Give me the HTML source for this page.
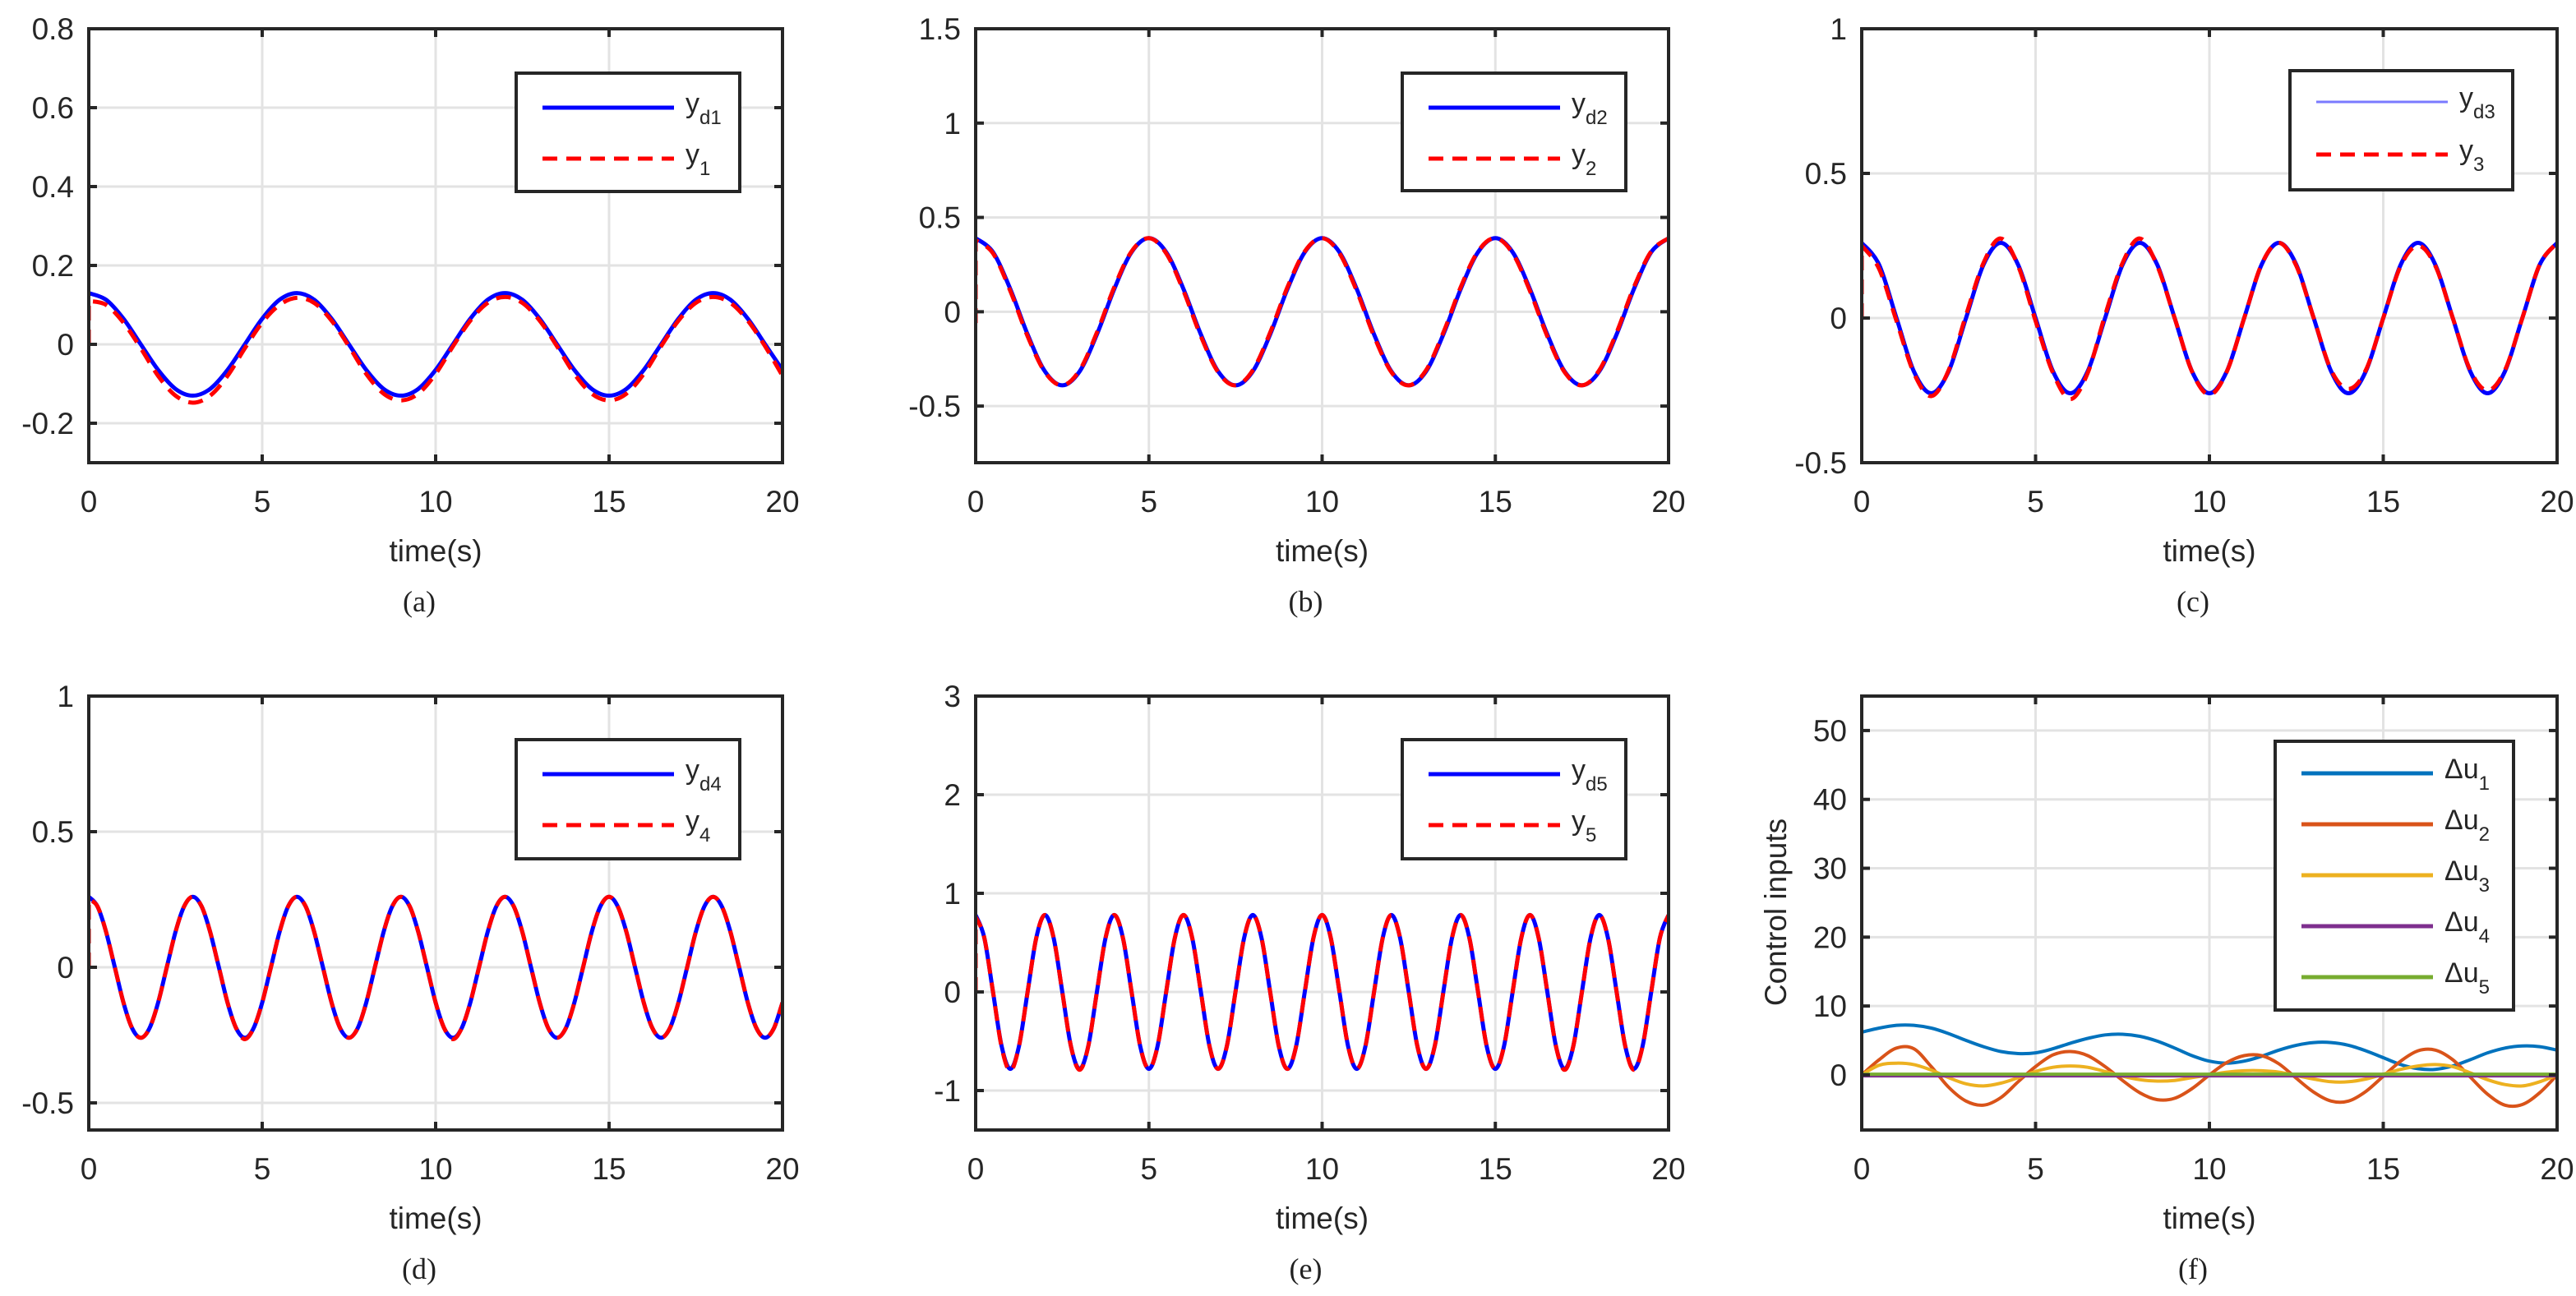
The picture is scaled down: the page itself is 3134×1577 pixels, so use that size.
<!DOCTYPE html>
<html><head><meta charset="utf-8"><style>
html,body{margin:0;padding:0;background:#fff;}
svg{display:block;}
text{font-family:"Liberation Sans",Arial,sans-serif;fill:#262626;}
.cap{font-family:"Liberation Serif",serif;fill:#222;}
</style></head><body>
<svg id="fig" width="3134" height="1577" viewBox="0 0 3134 1577" xmlns="http://www.w3.org/2000/svg"></svg>
<script>
// ---- data ----
const yTicksA = [-0.2, 0, 0.2, 0.4, 0.6, 0.8];
const yTickLabelsA = ["-0.2", "0", "0.2", "0.4", "0.6", "0.8"];
const yTicksB = [-0.5, 0, 0.5, 1, 1.5];
const yTickLabelsB = ["-0.5", "0", "0.5", "1", "1.5"];
const yTicksC = [-0.5, 0, 0.5, 1];
const yTickLabelsC = ["-0.5", "0", "0.5", "1"];
const yTicksD = [-0.5, 0, 0.5, 1];
const yTickLabelsD = ["-0.5", "0", "0.5", "1"];
const yTicksE = [-1, 0, 1, 2, 3];
const yTickLabelsE = ["-1", "0", "1", "2", "3"];
const yTicksF = [0, 10, 20, 30, 40, 50];
const yTickLabelsF = ["0", "10", "20", "30", "40", "50"];
const xTicks = [0, 5, 10, 15, 20];
const xTickLabels = ["0", "5", "10", "15", "20"];

const ydA = [0.13,0.113,0.065,0,-0.065,-0.113,-0.13,-0.113,-0.065,0,0.065,0.113,0.13,0.113,0.065,0,-0.065,-0.113,-0.13,-0.113,-0.065,0,0.065,0.113,0.13,0.113,0.065,0,-0.065,-0.113,-0.13,-0.113,-0.065,0,0.065,0.113,0.13,0.113,0.065,0,-0.065];
const yA = [0.11,0.10,0.055,-0.01,-0.08,-0.13,-0.148,-0.13,-0.08,-0.01,0.055,0.10,0.118,0.105,0.06,-0.005,-0.075,-0.125,-0.142,-0.125,-0.075,-0.005,0.06,0.105,0.12,0.105,0.06,-0.005,-0.075,-0.125,-0.142,-0.125,-0.075,-0.005,0.06,0.105,0.12,0.105,0.06,-0.005,-0.08];
const ydB = [0.39,0.316,0.12,-0.12,-0.316,-0.39,-0.316,-0.12,0.12,0.316,0.39,0.316,0.12,-0.12,-0.316,-0.39,-0.316,-0.12,0.12,0.316,0.39,0.316,0.12,-0.12,-0.316,-0.39,-0.316,-0.12,0.12,0.316,0.39,0.316,0.12,-0.12,-0.316,-0.39,-0.316,-0.12,0.12,0.316,0.39];
const yB = [0.38,0.31,0.11,-0.13,-0.32,-0.39,-0.31,-0.11,0.13,0.32,0.39,0.31,0.11,-0.13,-0.32,-0.39,-0.31,-0.11,0.13,0.32,0.39,0.31,0.11,-0.13,-0.32,-0.39,-0.31,-0.11,0.13,0.32,0.39,0.31,0.11,-0.13,-0.32,-0.39,-0.31,-0.11,0.13,0.32,0.39];
const ydC = [0.26,0.184,0,-0.184,-0.26,-0.184,0,0.184,0.26,0.184,0,-0.184,-0.26,-0.184,0,0.184,0.26,0.184,0,-0.184,-0.26,-0.184,0,0.184,0.26,0.184,0,-0.184,-0.26,-0.184,0,0.184,0.26,0.184,0,-0.184,-0.26,-0.184,0,0.184,0.26];
const yC = [0.25,0.17,-0.01,-0.19,-0.27,-0.18,0.01,0.19,0.275,0.18,-0.01,-0.19,-0.28,-0.19,0.01,0.19,0.275,0.18,0,-0.185,-0.265,-0.185,0,0.185,0.26,0.18,0,-0.18,-0.245,-0.18,0,0.18,0.25,0.18,0,-0.18,-0.25,-0.18,0,0.185,0.26];
const ydD = [0.26,0.225,0.13,0,-0.13,-0.225,-0.26,-0.225,-0.13,0,0.13,0.225,0.26,0.225,0.13,0,-0.13,-0.225,-0.26,-0.225,-0.13,0,0.13,0.225,0.26,0.225,0.13,0,-0.13,-0.225,-0.26,-0.225,-0.13,0,0.13,0.225,0.26,0.225,0.13,0,-0.13,-0.225,-0.26,-0.225,-0.13,0,0.13,0.225,0.26,0.225,0.13,0,-0.13,-0.225,-0.26,-0.225,-0.13,0,0.13,0.225,0.26,0.225,0.13,0,-0.13,-0.225,-0.26,-0.225,-0.13,0,0.13,0.225,0.26,0.225,0.13,0,-0.13,-0.225,-0.26,-0.225,-0.13];
const yD = [0.25,0.225,0.13,0,-0.13,-0.225,-0.26,-0.225,-0.13,0,0.13,0.225,0.26,0.225,0.13,0,-0.13,-0.225,-0.265,-0.225,-0.13,0,0.13,0.225,0.26,0.225,0.13,0,-0.13,-0.225,-0.26,-0.225,-0.13,0,0.13,0.225,0.26,0.225,0.13,0,-0.13,-0.225,-0.265,-0.225,-0.13,0,0.13,0.225,0.26,0.225,0.13,0,-0.13,-0.225,-0.26,-0.225,-0.13,0,0.13,0.225,0.26,0.225,0.13,0,-0.13,-0.225,-0.26,-0.225,-0.13,0,0.13,0.225,0.26,0.225,0.13,0,-0.13,-0.225,-0.26,-0.225,-0.13];
const ydE = [0.78,0.55,0,-0.55,-0.78,-0.55,0,0.55,0.78,0.55,0,-0.55,-0.78,-0.55,0,0.55,0.78,0.55,0,-0.55,-0.78,-0.55,0,0.55,0.78,0.55,0,-0.55,-0.78,-0.55,0,0.55,0.78,0.55,0,-0.55,-0.78,-0.55,0,0.55,0.78,0.55,0,-0.55,-0.78,-0.55,0,0.55,0.78,0.55,0,-0.55,-0.78,-0.55,0,0.55,0.78,0.55,0,-0.55,-0.78,-0.55,0,0.55,0.78,0.55,0,-0.55,-0.78,-0.55,0,0.55,0.78,0.55,0,-0.55,-0.78,-0.55,0,0.55,0.78];
const yE = [0.76,0.55,0,-0.56,-0.8,-0.55,0,0.55,0.78,0.55,0,-0.55,-0.79,-0.55,0,0.55,0.78,0.55,0,-0.55,-0.78,-0.55,0,0.55,0.78,0.55,0,-0.55,-0.78,-0.55,0,0.55,0.78,0.55,0,-0.55,-0.78,-0.55,0,0.55,0.78,0.55,0,-0.55,-0.78,-0.55,0,0.55,0.78,0.55,0,-0.55,-0.78,-0.55,0,0.55,0.78,0.55,0,-0.55,-0.78,-0.55,0,0.55,0.78,0.55,0,-0.55,-0.79,-0.55,0,0.55,0.78,0.55,0,-0.55,-0.79,-0.55,0,0.55,0.78];
const du1 = [6.2,6.8,7.2,7.2,6.8,6.0,5.0,4.1,3.4,3.1,3.2,3.8,4.6,5.3,5.8,5.9,5.6,4.9,3.9,2.8,2.0,1.7,2.0,2.7,3.6,4.3,4.7,4.7,4.3,3.5,2.5,1.5,0.9,0.8,1.3,2.2,3.2,3.9,4.2,4.1,3.6];
const du2 = [0,2.2,3.9,3.8,1.2,-1.8,-3.8,-4.4,-3.3,-1.0,1.2,2.9,3.4,2.8,1.2,-0.8,-2.6,-3.6,-3.4,-2.0,0,1.8,2.8,2.8,1.6,-0.5,-2.5,-3.8,-3.8,-2.4,-0.2,2.0,3.5,3.6,2.2,-0.3,-2.8,-4.4,-4.3,-2.6,0];
const du3 = [0,1.4,1.7,1.5,0.7,-0.4,-1.3,-1.6,-1.2,-0.4,0.5,1.1,1.3,1.1,0.5,-0.2,-0.7,-0.9,-0.8,-0.4,0,0.4,0.6,0.6,0.4,-0.1,-0.6,-1.0,-1.0,-0.6,0.1,0.8,1.3,1.5,1.2,0.3,-0.7,-1.4,-1.6,-1.0,0];
const du4 = [-0.2,-0.2,-0.2,-0.2,-0.2,-0.2,-0.2,-0.2,-0.2,-0.2,-0.2,-0.2,-0.2,-0.2,-0.2,-0.2,-0.2,-0.2,-0.2,-0.2,-0.2,-0.2,-0.2,-0.2,-0.2,-0.2,-0.2,-0.2,-0.2,-0.2,-0.2,-0.2,-0.2,-0.2,-0.2,-0.2,-0.2,-0.2,-0.2,-0.2,-0.2];
const du5 = [0.1,0.1,0.1,0.1,0.1,0.1,0.1,0.1,0.1,0.1,0.1,0.1,0.1,0.1,0.1,0.1,0.1,0.1,0.1,0.1,0.1,0.1,0.1,0.1,0.1,0.1,0.1,0.1,0.1,0.1,0.1,0.1,0.1,0.1,0.1,0.1,0.1,0.1,0.1,0.1,0.1];
// initial transient values at t=0 (vertical jump)
const startA = [0], startB = [-0.06], startC = [0], startD = [0], startE = [0];
const startF = [6.2, 1.0, 10, 0, 6];

const NS = "http://www.w3.org/2000/svg";
const svg = document.getElementById("fig");
function mk(tag, attrs, parent) {
  const e = document.createElementNS(NS, tag);
  for (const k in attrs) e.setAttribute(k, attrs[k]);
  (parent || svg).appendChild(e);
  return e;
}
function times(n) { const t = []; for (let i = 0; i < n; i++) t.push(20 * i / (n - 1)); return t; }
function smoothPath(pts) {
  let d = "M" + pts[0][0].toFixed(1) + "," + pts[0][1].toFixed(1);
  for (let i = 0; i < pts.length - 1; i++) {
    const p0 = pts[Math.max(0, i - 1)], p1 = pts[i], p2 = pts[i + 1], p3 = pts[Math.min(pts.length - 1, i + 2)];
    const c1x = p1[0] + (p2[0] - p0[0]) / 6, c1y = p1[1] + (p2[1] - p0[1]) / 6;
    const c2x = p2[0] - (p3[0] - p1[0]) / 6, c2y = p2[1] - (p3[1] - p1[1]) / 6;
    d += " C" + c1x.toFixed(1) + "," + c1y.toFixed(1) + " " + c2x.toFixed(1) + "," + c2y.toFixed(1) + " " + p2[0].toFixed(1) + "," + p2[1].toFixed(1);
  }
  return d;
}

function panel(cfg) {
  const g = mk("g", {});
  
  
  const X = t => cfg.L + (t - 0) / 20 * (cfg.R - cfg.L);
  const Y = v => cfg.B - (v - cfg.ymin) / (cfg.ymax - cfg.ymin) * (cfg.B - cfg.T);
  // grid
  xTicks.forEach(t => {
    const l = mk("line", {x1: X(t), x2: X(t), y1: cfg.T, y2: cfg.B, stroke: "#e3e3e3", "stroke-width": 3}, g);
    
    
  });
  cfg.yt.forEach(v => {
    const l = mk("line", {x1: cfg.L, x2: cfg.R, y1: Y(v), y2: Y(v), stroke: "#e3e3e3", "stroke-width": 3}, g);
    
    
  });
  // series
  const clipId = "clip" + cfg.id;
  const cp = mk("clipPath", {id: clipId}, g);
  mk("rect", {x: cfg.L, y: cfg.T, width: cfg.R - cfg.L, height: cfg.B - cfg.T}, cp);
  cfg.series.forEach(s => {
    const tt = times(s.v.length);
    const pts = s.v.map((v, i) => [X(tt[i]), Y(v)]);
    let d = smoothPath(pts);
    if (s.start !== undefined) d = "M" + X(0) + "," + Y(s.start) + " L" + pts[0][0] + "," + pts[0][1] + " " + d.replace(/^M[^ ]+/, "");
    const p = mk("path", {d: d, fill: "none", stroke: s.color, "stroke-width": s.w || 5, "clip-path": "url(#" + clipId + ")", "stroke-linejoin": "round"}, g);
    if (s.dash) p.setAttribute("stroke-dasharray", s.dash);
    
    
  });
  // box + ticks
  const box = mk("rect", {x: cfg.L, y: cfg.T, width: cfg.R - cfg.L, height: cfg.B - cfg.T, fill: "none", stroke: "#262626", "stroke-width": 4}, g);
  
  
  xTicks.forEach((t, i) => {
    mk("line", {x1: X(t), x2: X(t), y1: cfg.B, y2: cfg.B - 10, stroke: "#262626", "stroke-width": 4}, g);
    mk("line", {x1: X(t), x2: X(t), y1: cfg.T, y2: cfg.T + 10, stroke: "#262626", "stroke-width": 4}, g);
    const tx = mk("text", {x: X(t), y: cfg.B + 60, "font-size": 37, "text-anchor": "middle"}, g);
    tx.textContent = xTickLabels[i];
    
    
  });
  cfg.yt.forEach((v, i) => {
    mk("line", {x1: cfg.L, x2: cfg.L + 10, y1: Y(v), y2: Y(v), stroke: "#262626", "stroke-width": 4}, g);
    mk("line", {x1: cfg.R, x2: cfg.R - 10, y1: Y(v), y2: Y(v), stroke: "#262626", "stroke-width": 4}, g);
    const tx = mk("text", {x: cfg.L - 18, y: Y(v) + 13, "font-size": 37, "text-anchor": "end"}, g);
    tx.textContent = cfg.ytl[i];
    
    
  });
  const xl = mk("text", {x: (cfg.L + cfg.R) / 2, y: cfg.B + 120, "font-size": 37, "text-anchor": "middle"}, g);
  xl.textContent = "time(s)";
  
  
  const cap = mk("text", {x: (cfg.L + cfg.R) / 2 - 20, y: cfg.B + 181, "font-size": 36, "text-anchor": "middle", class: "cap"}, g);
  cap.textContent = "(" + cfg.id + ")";
  
  
  // legend
  const lg = mk("g", {}, g);
  
  
  mk("rect", {x: cfg.lx, y: cfg.ly, width: cfg.lw, height: cfg.lh, fill: "#fff", stroke: "#262626", "stroke-width": 4}, lg);
  cfg.leg.forEach((e, i) => {
    const yy = cfg.ly + cfg.lr0 + i * cfg.lstep;
    const ln = mk("line", {x1: cfg.lx + 32, x2: cfg.lx + 192, y1: yy, y2: yy, stroke: e.color, "stroke-width": e.w || 5}, lg);
    if (e.dash) ln.setAttribute("stroke-dasharray", e.dash);
    const tx = mk("text", {x: cfg.lx + 206, y: yy + 6, "font-size": 34}, lg);
    tx.textContent = e.main;
    const ts = mk("tspan", {dy: 14, "font-size": 24}, tx);
    ts.textContent = e.sub;
    
    
  });
  return {X, Y};
}

const BLUE = "#0000ff", RED = "#ff0000", DASH = "18 11";
panel({id: "a", L: 108, R: 952, T: 35, B: 563, ymin: -0.3, ymax: 0.8, yt: yTicksA, ytl: yTickLabelsA,
  series: [{name: "yd1", v: ydA, color: BLUE}, {name: "y1", v: yA, color: RED, dash: DASH, start: startA[0]}],
  lx: 628, ly: 89, lw: 272, lh: 144, lr0: 42, lstep: 62,
  leg: [{main: "y", sub: "d1", color: BLUE}, {main: "y", sub: "1", color: RED, dash: DASH}]});
panel({id: "b", L: 1187, R: 2030, T: 35, B: 563, ymin: -0.8, ymax: 1.5, yt: yTicksB, ytl: yTickLabelsB,
  series: [{name: "yd2", v: ydB, color: BLUE}, {name: "y2", v: yB, color: RED, dash: DASH, start: startB[0]}],
  lx: 1706, ly: 89, lw: 272, lh: 143, lr0: 42, lstep: 62,
  leg: [{main: "y", sub: "d2", color: BLUE}, {main: "y", sub: "2", color: RED, dash: DASH}]});
panel({id: "c", L: 2265, R: 3111, T: 35, B: 563, ymin: -0.5, ymax: 1, yt: yTicksC, ytl: yTickLabelsC,
  series: [{name: "yd3", v: ydC, color: BLUE}, {name: "y3", v: yC, color: RED, dash: DASH, start: startC[0]}],
  lx: 2786, ly: 86, lw: 271, lh: 145, lr0: 38, lstep: 64,
  leg: [{main: "y", sub: "d3", color: "#7a7aff", w: 3}, {main: "y", sub: "3", color: RED, dash: DASH}]});
panel({id: "d", L: 108, R: 952, T: 847, B: 1375, ymin: -0.6, ymax: 1, yt: yTicksD, ytl: yTickLabelsD,
  series: [{name: "yd4", v: ydD, color: BLUE}, {name: "y4", v: yD, color: RED, dash: DASH, start: startD[0]}],
  lx: 628, ly: 900, lw: 272, lh: 145, lr0: 42, lstep: 62,
  leg: [{main: "y", sub: "d4", color: BLUE}, {main: "y", sub: "4", color: RED, dash: DASH}]});
panel({id: "e", L: 1187, R: 2030, T: 847, B: 1375, ymin: -1.4, ymax: 3, yt: yTicksE, ytl: yTickLabelsE,
  series: [{name: "yd5", v: ydE, color: BLUE}, {name: "y5", v: yE, color: RED, dash: DASH, start: startE[0]}],
  lx: 1706, ly: 900, lw: 272, lh: 145, lr0: 42, lstep: 62,
  leg: [{main: "y", sub: "d5", color: BLUE}, {main: "y", sub: "5", color: RED, dash: DASH}]});
panel({id: "f", L: 2265, R: 3111, T: 847, B: 1375, ymin: -8, ymax: 55, yt: yTicksF, ytl: yTickLabelsF,
  series: [
    {name: "du1", v: du1, color: "#0072bd", start: startF[0], w: 4},
    {name: "du2", v: du2, color: "#d95319", start: startF[1], w: 4},
    {name: "du3", v: du3, color: "#edb120", start: startF[2], w: 4},
    {name: "du4", v: du4, color: "#7e2f8e", start: startF[3], w: 3},
    {name: "du5", v: du5, color: "#77ac30", start: startF[4], w: 4}],
  lx: 2768, ly: 902, lw: 290, lh: 327, lr0: 39, lstep: 62,
  leg: [{main: "\u0394u", sub: "1", color: "#0072bd"}, {main: "\u0394u", sub: "2", color: "#d95319"},
        {main: "\u0394u", sub: "3", color: "#edb120"}, {main: "\u0394u", sub: "4", color: "#7e2f8e"},
        {main: "\u0394u", sub: "5", color: "#77ac30"}]});
const yl = mk("text", {x: 0, y: 0, "font-size": 37, "text-anchor": "middle", transform: "translate(2173,1110) rotate(-90)"});
yl.textContent = "Control inputs";


</script>
</body></html>
